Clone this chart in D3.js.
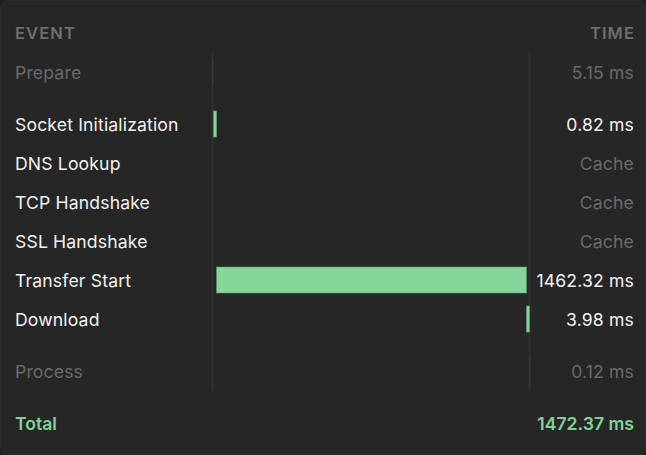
<!DOCTYPE html>
<html><head><meta charset="utf-8">
<script src="https://cdn.jsdelivr.net/npm/d3@7"></script>
<style>
html,body{margin:0;padding:0;background:#1e1e1e;}
svg{display:block;font-family:Inter,"Noto Sans",sans-serif;}
</style></head>
<body><svg id="chart" width="646" height="455"></svg>
<script>
// Data
const events = ["Prepare","Socket Initialization","DNS Lookup","TCP Handshake","SSL Handshake","Transfer Start","Download","Process"];
const durations = [5.15, 0.82, null, null, null, 1462.32, 3.98, 0.12]; // null = cached
const groups = [0, 1, 1, 1, 1, 1, 1, 2];
const muted = [true, false, false, false, false, false, false, true];
const timeLabels = ["5.15 ms","0.82 ms","Cache","Cache","Cache","1462.32 ms","3.98 ms","0.12 ms"];
const totalLabel = "Total";
const totalValue = 1472.37;
const totalText = "1472.37 ms";
const headers = ["EVENT","TIME"];

const W = 646, H = 455;
const svg = d3.select("#chart");

const C = {
  card:"#262626", border:"#2c2c2c", text:"#f2f2f2", muted:"#6a6a6a", header:"#6e6e6e",
  green:"#86d69c", greenEdge:"#5f9e70", grid:"#303030", faint:"#3a3a3a", total:"#7fd19a"
};

svg.append("rect").attr("x",0.5).attr("y",0.5).attr("width",W-1).attr("height",H-1)
  .attr("rx",7).attr("fill",C.card).attr("stroke",C.border);

const left = 15, right = 634;
const rowStep = 39, groupGap = 13, y0 = 72;
const y = (i, g) => y0 + i*rowStep + g*groupGap;
const fs = 17.6, ls = "0.15px", base = 7;

// headers
svg.append("text").attr("x",left).attr("y",39).text(headers[0])
  .attr("fill",C.header).attr("font-size",16.5).attr("font-weight",600).attr("letter-spacing","1.1px");
svg.append("text").attr("x",right+1).attr("y",39).attr("text-anchor","end").text(headers[1])
  .attr("fill",C.header).attr("font-size",16.5).attr("font-weight",600).attr("letter-spacing","1.1px");

// timeline region
const tlLeft = 212.5, tlRight = 529.5;
const x = d3.scaleLinear().domain([0, totalValue]).range([0, 312]);

// gridlines
const yTop = 52, yBot = 391;
[tlLeft, tlRight].forEach(xx => {
  svg.append("line").attr("x1",xx).attr("x2",xx).attr("y1",yTop).attr("y2",yBot)
    .attr("stroke",C.grid).attr("stroke-width",2);
});

// compute bar positions (sequential waterfall)
let cursor = tlLeft;
const bars = [];
events.forEach((e,i) => {
  const d = durations[i];
  if (d == null) return;
  const minW = muted[i] ? 1 : 3;
  const w = Math.max(minW, x(d));
  bars.push({i, x: cursor, w, muted: muted[i]});
  cursor += w;
});

const barH = 26;
svg.selectAll("rect.bar").data(bars).join("rect").attr("class","bar")
  .attr("x", d => d.x).attr("width", d => d.w)
  .attr("y", d => y(d.i, groups[d.i]) - barH/2).attr("height", barH)
  .attr("fill", d => d.muted ? C.faint : C.green)
  .attr("stroke", d => d.muted ? "none" : C.greenEdge).attr("stroke-width", 0.6);

// labels
const rows = svg.selectAll("g.row").data(events).join("g").attr("class","row");
rows.append("text").attr("x",left).attr("y",(d,i)=>y(i,groups[i])+base).text(d=>d)
  .attr("font-size",fs).attr("letter-spacing",ls).attr("fill",(d,i)=>muted[i]?C.muted:C.text);
rows.append("text").attr("x",right).attr("y",(d,i)=>y(i,groups[i])+base).attr("text-anchor","end")
  .text((d,i)=>timeLabels[i]).attr("font-size",fs).attr("letter-spacing",ls)
  .attr("fill",(d,i)=>(muted[i]||durations[i]==null)?C.muted:C.text);

// total
const yt = y(events.length, 3);
svg.append("text").attr("x",left).attr("y",yt+base).text(totalLabel)
  .attr("font-size",fs).attr("font-weight",600).attr("fill",C.total);
svg.append("text").attr("x",right).attr("y",yt+base).attr("text-anchor","end").text(totalText)
  .attr("font-size",fs).attr("font-weight",600).attr("fill",C.total);
</script></body></html>
